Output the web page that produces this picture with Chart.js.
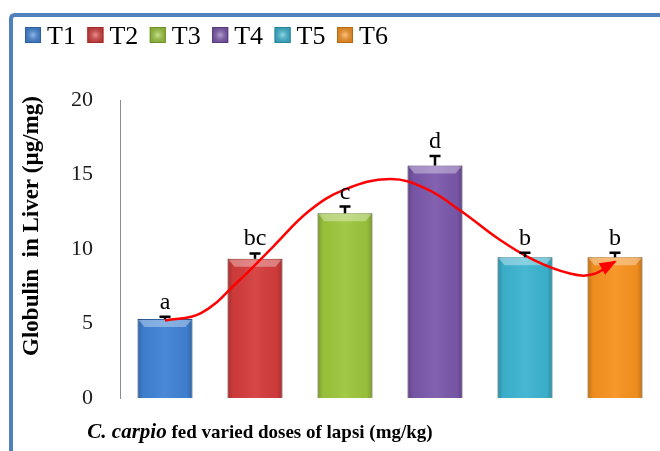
<!DOCTYPE html>
<html>
<head>
<meta charset="utf-8">
<script src="https://cdn.jsdelivr.net/npm/chart.js@4/dist/chart.umd.min.js"></script>
<style>
  html, body { margin: 0; padding: 0; background: #fff; }
  #wrap { width: 660px; height: 451px; position: relative; }
</style>
</head>
<body>
<div id="wrap"><canvas id="c" width="660" height="451"></canvas></div>
<script>
// ---- data ----
const categories = ['T1', 'T2', 'T3', 'T4', 'T5', 'T6'];
const values = [5.3, 9.35, 12.4, 15.6, 9.45, 9.45];
const errors = [0.15, 0.35, 0.45, 0.65, 0.3, 0.3];
const letters = ['a', 'bc', 'c', 'd', 'b', 'b'];
const barColors = ['#3F82D4', '#D43C3C', '#9CC63C', '#7B58AB', '#3CB4D0', '#F7921F'];
const barEdges = ['#2C5F9E', '#9E2A2A', '#6E8E28', '#56397D', '#27839A', '#B86812'];
// hand-drawn red trend arrow, read along its path (x in category units)
const trendX = [0, 0.4, 0.8, 1.2, 1.6, 2.0, 2.5, 2.9, 3.3, 3.7, 4.1, 4.5, 4.75, 5.0];
const trendY = [5.2, 5.7, 7.75, 10.15, 12.55, 14.0, 14.7, 14.05, 12.5, 10.7, 9.25, 8.35, 8.3, 9.15];
const yTicks = [0, 5, 10, 15, 20];
const yTitle = 'Globulin  in Liver (\u00b5g/mg)';
const xTitleItalic = 'C. carpio';
const xTitleRest = ' fed varied doses of lapsi (mg/kg)';

const trendData = trendX.map((x, i) => ({ x: x, y: trendY[i] }));

const decor = {
  id: 'decor',
  beforeDraw(chart) {
    const ctx = chart.ctx;
    ctx.save();
    ctx.strokeStyle = '#4F81BD';
    ctx.lineWidth = 4;
    ctx.beginPath();
    ctx.moveTo(11, 451);
    ctx.lineTo(11, 19);
    ctx.quadraticCurveTo(11, 15, 15, 15);
    ctx.lineTo(660, 15);
    ctx.stroke();
    ctx.restore();
  },
  afterDatasetDraw(chart, args) {
    if (args.index !== 0) return;
    const ctx = chart.ctx;
    const meta = chart.getDatasetMeta(0);
    ctx.save();
    meta.data.forEach((bar) => {
      const w = bar.width, l = bar.x - w / 2, r = bar.x + w / 2, t = bar.y, b = bar.base;
      let g = ctx.createLinearGradient(l, 0, r, 0);
      g.addColorStop(0, 'rgba(0,0,0,0.22)');
      g.addColorStop(0.1, 'rgba(0,0,0,0.04)');
      g.addColorStop(0.5, 'rgba(255,255,255,0.06)');
      g.addColorStop(0.9, 'rgba(0,0,0,0.04)');
      g.addColorStop(1, 'rgba(0,0,0,0.22)');
      ctx.fillStyle = g;
      ctx.fillRect(l, t, w, b - t);
      ctx.fillStyle = 'rgba(255,255,255,0.35)';
      ctx.beginPath();
      ctx.moveTo(l + 1, t + 1);
      ctx.lineTo(r - 1, t + 1);
      ctx.lineTo(r - 7, t + 8);
      ctx.lineTo(l + 7, t + 8);
      ctx.closePath();
      ctx.fill();
    });
    ctx.restore();
  },
  afterDatasetsDraw(chart) {
    const ctx = chart.ctx;
    const ys = chart.scales.y;
    const meta = chart.getDatasetMeta(0);
    ctx.save();
    meta.data.forEach((bar, i) => {
      const top = ys.getPixelForValue(values[i] + errors[i]);
      ctx.strokeStyle = '#000';
      ctx.lineWidth = 2.5;
      ctx.beginPath();
      ctx.moveTo(bar.x, bar.y);
      ctx.lineTo(bar.x, top);
      ctx.moveTo(bar.x - 5.5, top);
      ctx.lineTo(bar.x + 5.5, top);
      ctx.stroke();
      ctx.fillStyle = '#000';
      ctx.font = '24px "Liberation Serif", serif';
      ctx.textAlign = 'center';
      ctx.textBaseline = 'alphabetic';
      ctx.fillText(letters[i], bar.x, top - 8);
    });
    const lm = chart.getDatasetMeta(1);
    const pts = lm.data;
    const last = pts[pts.length - 1];
    let dx = last.x - (last.cp1x ?? pts[pts.length - 2].x);
    let dy = last.y - (last.cp1y ?? pts[pts.length - 2].y);
    const len = Math.hypot(dx, dy) || 1;
    dx /= len; dy /= len;
    const L = 15, H = 6.5;
    const bx = last.x - dx * L, by = last.y - dy * L;
    ctx.fillStyle = '#FF0000';
    ctx.beginPath();
    ctx.moveTo(last.x + dx * 2, last.y + dy * 2);
    ctx.lineTo(bx - dy * H, by + dx * H);
    ctx.lineTo(bx + dy * H, by - dx * H);
    ctx.closePath();
    ctx.fill();
    ctx.restore();
  },
  afterDraw(chart) {
    const ctx = chart.ctx;
    ctx.save();
    const x0 = 25, step = 62.4;
    categories.forEach((c, i) => {
      const x = x0 + i * step, y = 27;
      ctx.fillStyle = barColors[i];
      ctx.fillRect(x, y, 16, 16);
      const rg = ctx.createRadialGradient(x + 8, y + 8, 1, x + 8, y + 8, 9);
      rg.addColorStop(0, 'rgba(255,255,255,0.35)');
      rg.addColorStop(1, 'rgba(0,0,0,0.12)');
      ctx.fillStyle = rg;
      ctx.fillRect(x, y, 16, 16);
      ctx.strokeStyle = barEdges[i];
      ctx.lineWidth = 1;
      ctx.strokeRect(x + 0.5, y + 0.5, 15, 15);
      ctx.fillStyle = '#000';
      ctx.font = '26px "Liberation Serif", serif';
      ctx.textAlign = 'left';
      ctx.textBaseline = 'alphabetic';
      ctx.fillText(c, x + 22, 44);
    });
    ctx.save();
    ctx.translate(32, 226);
    ctx.rotate(-Math.PI / 2);
    ctx.font = 'bold 23px "Liberation Serif", serif';
    ctx.textAlign = 'center';
    ctx.textBaseline = 'middle';
    ctx.fillStyle = '#000';
    ctx.fillText(yTitle, 0, 0);
    ctx.restore();
    ctx.fillStyle = '#000';
    ctx.textBaseline = 'alphabetic';
    ctx.textAlign = 'left';
    ctx.font = 'bold italic 21px "Liberation Serif", serif';
    const w1 = ctx.measureText(xTitleItalic).width;
    ctx.font = 'bold 19px "Liberation Serif", serif';
    const w2 = ctx.measureText(xTitleRest).width;
    const xs = 260 - (w1 + w2) / 2;
    ctx.font = 'bold italic 21px "Liberation Serif", serif';
    ctx.fillText(xTitleItalic, xs, 438);
    ctx.font = 'bold 19px "Liberation Serif", serif';
    ctx.fillText(xTitleRest, xs + w1, 438);
    ctx.restore();
  }
};

new Chart(document.getElementById('c'), {
  data: {
    labels: categories,
    datasets: [
      {
        type: 'bar',
        data: values,
        backgroundColor: barColors,
        borderColor: barEdges,
        borderWidth: 1,
        barPercentage: 0.61,
        categoryPercentage: 1,
        grouped: false,
        xAxisID: 'x',
        yAxisID: 'y',
        order: 2
      },
      {
        type: 'line',
        data: trendData,
        borderColor: '#FF0000',
        borderWidth: 2.5,
        pointRadius: 0,
        fill: false,
        tension: 0.4,
        xAxisID: 'xl',
        yAxisID: 'y',
        order: 1
      }
    ]
  },
  options: {
    responsive: false,
    animation: false,
    devicePixelRatio: 1,
    layout: { padding: { top: 100, bottom: 53, left: 0, right: 0 } },
    plugins: { legend: { display: false }, tooltip: { enabled: false } },
    scales: {
      x: { type: 'category', offset: true, display: false, grid: { display: false, offset: true } },
      xl: { type: 'linear', display: false, min: -0.5, max: 5.5 },
      y: {
        min: 0, max: 20,
        afterFit(s) { s.width = 120; },
        afterBuildTicks(s) { s.ticks = yTicks.map(v => ({ value: v })); },
        grid: { display: false },
        border: { display: true, color: '#8C8C8C', width: 1 },
        ticks: {
          padding: 19,
          color: '#1a1a1a',
          font: { family: '"Liberation Serif", serif', size: 22 }
        }
      }
    }
  },
  plugins: [decor]
});
</script>
</body>
</html>
